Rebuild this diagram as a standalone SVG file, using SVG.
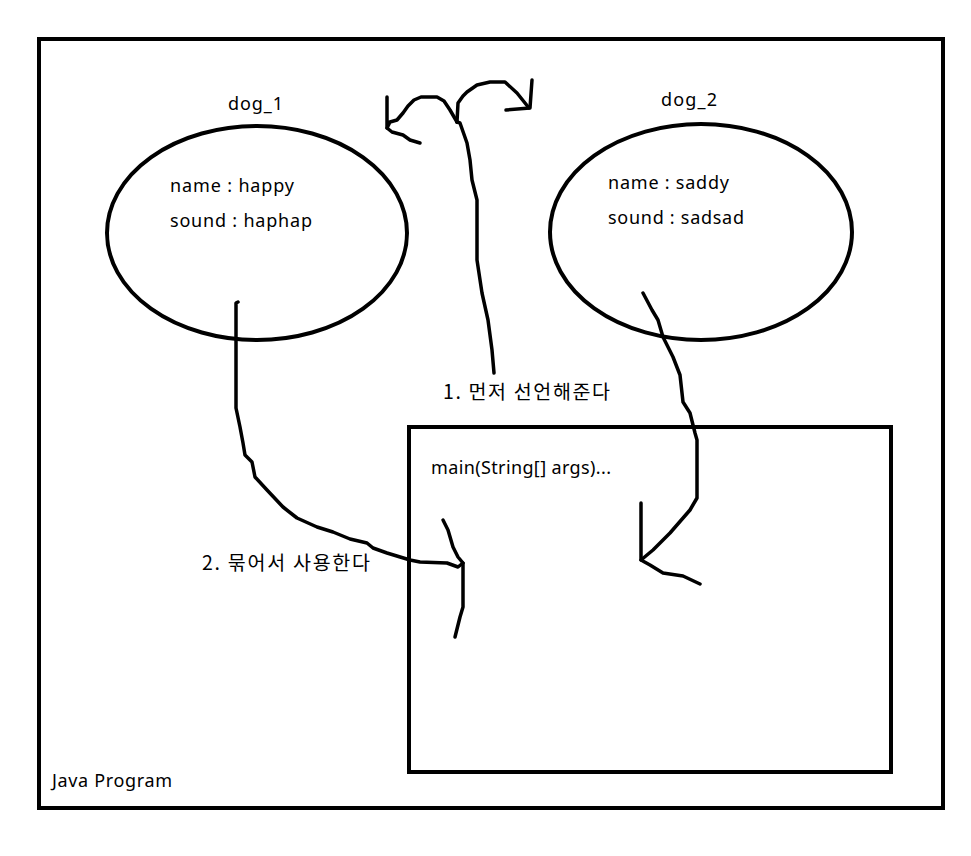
<svg xmlns="http://www.w3.org/2000/svg" width="971" height="856" viewBox="0 0 971 856">
<style>
.box{fill:none;stroke:#000;stroke-width:4}
.line{fill:none;stroke:#000;stroke-width:3.5;stroke-linecap:round;stroke-linejoin:round}
text{font-family:"Noto Sans","Noto Sans CJK KR",sans-serif;font-size:18px;fill:#000}
.ko{font-family:"Noto Sans CJK KR","Noto Sans",sans-serif;font-size:19.5px}
</style>
<rect width="971" height="856" fill="#fff"/>
<g id="program">
<rect class="box" x="39" y="39" width="904" height="769"/>
<text x="52" y="787" textLength="120" lengthAdjust="spacing">Java Program</text>
</g>
<g id="main">
<rect class="box" x="409" y="427" width="482" height="345"/>
<text x="431" y="474" textLength="180" lengthAdjust="spacing">main(String[] args)...</text>
</g>
<g id="dog_1">
<ellipse class="box" cx="257" cy="233" rx="150" ry="107"/>
<text x="228" y="110" textLength="55" lengthAdjust="spacing">dog_1</text>
<text x="170" y="192" textLength="124" lengthAdjust="spacing">name : happy</text>
<text x="170" y="227" textLength="142" lengthAdjust="spacing">sound : haphap</text>
</g>
<g id="dog_2">
<ellipse class="box" cx="701" cy="232" rx="151" ry="108"/>
<text x="661" y="106" textLength="56" lengthAdjust="spacing">dog_2</text>
<text x="608" y="189" textLength="121" lengthAdjust="spacing">name : saddy</text>
<text x="608" y="224" textLength="136" lengthAdjust="spacing">sound : sadsad</text>
</g>
<g id="connectors">
<path class="line" d="M387,97 L387,128 L390,122 L397,120 L403,113 L408,106 L414,100 L421,97 L437,97 L444,101 L450,110 L457,122"/>
<path class="line" d="M387,128 L392,132 L403,135 L410,140 L420,143"/>
<path class="line" d="M457,122 L458,103 L463,96 L467,92 L477,85 L490,82 L505,82 L517,93 L529,108"/>
<path class="line" d="M532,80 L530,108 L506,110"/>
<path class="line" d="M457,122 L460,123 L467,143 L470,160 L472,180 L477,200 L477,260 L482,293 L488,320 L492,350 L494,373"/>
<path class="line" d="M643,293 L652,310 L658,320 L663,337 L673,357 L680,375 L683,402 L690,413 L695,433 L697,440 L697,498 L690,510 L670,533 L653,550 L641,560"/>
<path class="line" d="M641,503 L641,560 L650,565 L663,573 L683,576 L700,584"/>
<path class="line" d="M238,302 L236,303 L236,408 L240,427 L243,443 L245,455 L252,462 L255,477 L267,490 L283,507 L297,518 L317,527 L333,532 L350,539 L367,543 L373,548 L387,553 L410,560 L420,562 L447,563 L458,567 L463,563"/>
<path class="line" d="M443,520 L448,530 L453,547 L458,557 L463,563 L463,607 L460,617 L455,637"/>
<text class="ko" x="443" y="399" textLength="167" lengthAdjust="spacing">1. 먼저 선언해준다</text>
<text class="ko" x="202" y="570" textLength="168" lengthAdjust="spacing">2. 묶어서 사용한다</text>
</g>
</svg>
